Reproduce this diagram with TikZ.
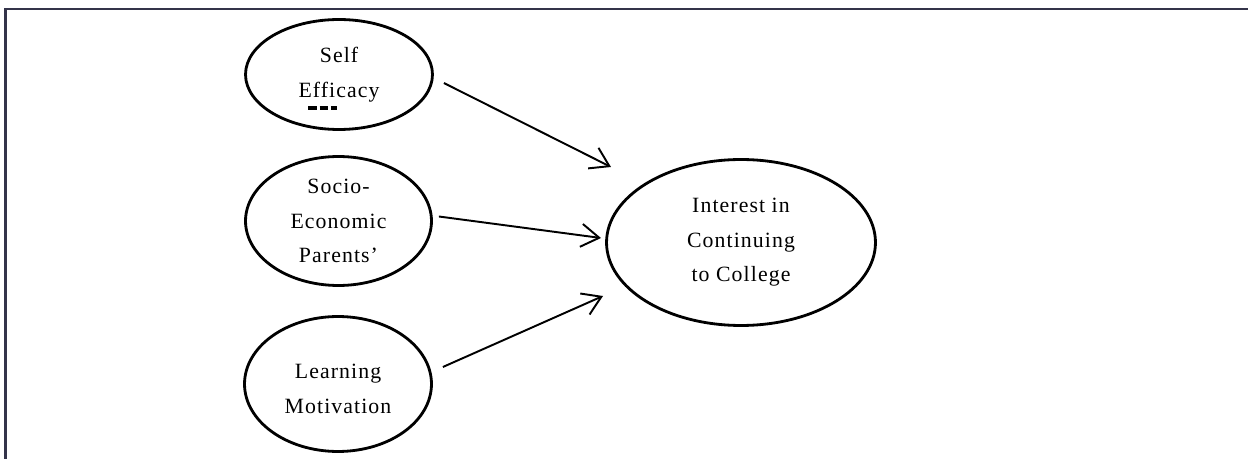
\documentclass[tikz,border=0pt]{standalone}
\usepackage{fontspec}
\setmainfont{Liberation Serif}
\usepackage{tikz}
\usepackage{xcolor}
\usetikzlibrary{shapes.geometric, arrows.meta}

\begin{document}
\begin{tikzpicture}[x = 0.02cm, y = -0.02cm,
						label text/.style = {align = center,
							font = \fontsize{12.4}{19.6}\selectfont\addfontfeature{LetterSpace = 5}},
						factor/.style = {label text, draw, ellipse, line width = 1.6pt, inner sep = 0pt},
						path arrow/.style = {line width = 1.1pt, -{Straight Barb[length = 0.36cm, width = 0.46cm]}},
						]
	
		\definecolor{framegray}{HTML}{34344A}
		
		% Page size in pixels
		\useasboundingbox (0, 0) rectangle (1248, 459);
		
		% Frame, only left and top edge
		\draw[framegray, line width = 1.15pt] (5.5, 459) -- (5.5, 9) -- (1248, 9);
		
		% Predictors
		\node[factor, minimum width = 3.74cm, minimum height = 2.2cm] (selfEff) at (339, 74.5) {Self\\Efficacy};
		\node[factor, minimum width = 3.72cm, minimum height = 2.58cm] (socioEco) at (338.5, 221) {Socio-\\Economic\\Parents'};
		\node[factor, minimum width = 3.74cm, minimum height = 2.7cm] (learnMot) at (338, 384) {};
		\node[label text] (learnText) at (338, 389) {Learning\\Motivation};
		
		% Outcome
		\node[factor, minimum width = 5.38cm, minimum height = 3.32cm] (interest) at (741, 242.5) {Interest in\\Continuing\\to College};
		
		% Stray mark under Efficacy
		\draw[line width = 1.8pt, dash pattern = on 0.18cm off 0.05cm] (308, 108) -- (337, 108);
		
		% Paths
		\draw[path arrow] ([shift = {(10, 8.5)}]selfEff.east) -- ([shift = {(-130, -75.5)}]interest.center);
		\draw[path arrow] ([shift = {(6, -4.5)}]socioEco.east) -- ([shift = {(-140, -4.5)}]interest.center);
		\draw[path arrow] ([shift = {(10, -17)}]learnMot.east) -- ([shift = {(-138, 53.5)}]interest.center);
		
	\end{tikzpicture}
\end{document}
